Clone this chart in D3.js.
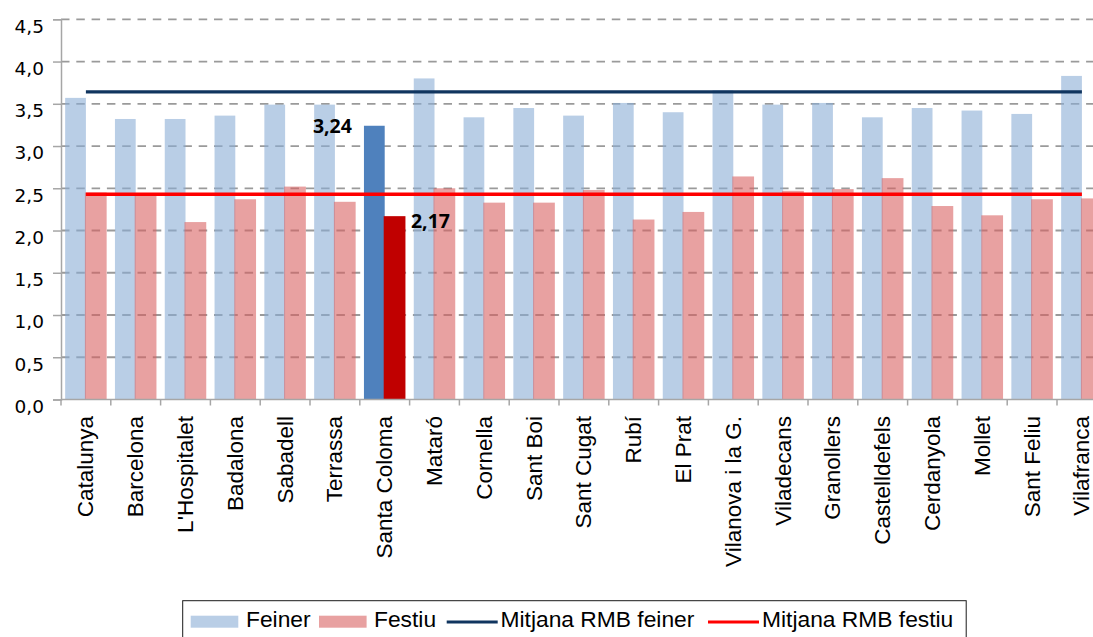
<!DOCTYPE html>
<html>
<head>
<meta charset="utf-8">
<script src="https://cdn.jsdelivr.net/npm/d3@7"></script>
<style>
  html, body { margin: 0; padding: 0; background: #ffffff; }
  svg { display: block; }
</style>
</head>
<body>
<svg id="chart" width="1093" height="637"></svg>
<script>
// Mobilitat per persona: dia feiner vs. dia festiu
const categories = ["Catalunya", "Barcelona", "L'Hospitalet", "Badalona", "Sabadell", "Terrassa",
  "Santa Coloma", "Mataró", "Cornella", "Sant Boi", "Sant Cugat", "Rubí", "El Prat",
  "Vilanova i la G.", "Viladecans", "Granollers", "Castelldefels", "Cerdanyola", "Mollet",
  "Sant Feliu", "Vilafranca"];
const feiner = [3.57, 3.32, 3.32, 3.36, 3.49, 3.49, 3.24, 3.80, 3.34, 3.45, 3.36, 3.51, 3.40,
  3.66, 3.49, 3.51, 3.34, 3.45, 3.42, 3.38, 3.83];
const festiu = [2.45, 2.43, 2.10, 2.37, 2.52, 2.34, 2.17, 2.50, 2.33, 2.33, 2.48, 2.13, 2.22,
  2.64, 2.47, 2.49, 2.62, 2.29, 2.18, 2.37, 2.38];
const mitjanaFeiner = 3.64;
const mitjanaFestiu = 2.43;
const highlighted = "Santa Coloma";
const yTicks = [0, 0.5, 1, 1.5, 2, 2.5, 3, 3.5, 4, 4.5];
const seriesNames = ["Feiner", "Festiu", "Mitjana RMB feiner", "Mitjana RMB festiu"];

const catalan = d3.formatLocale({ decimal: ",", thousands: ".", grouping: [3], currency: ["", " €"] });
const fmtTick = catalan.format(".1f");
const fmtValue = catalan.format(".2f");

const svg = d3.select("#chart");
const plotLeft = 61, step = 49.8, plotTop = 19.3, plotBottom = 399.5;

const x = d3.scaleBand().domain(categories).range([plotLeft, plotLeft + step * categories.length]).padding(0);
const xs = d3.scaleBand().domain(["feiner", "festiu"]).range([0, x.bandwidth()])
  .paddingInner(0).paddingOuter(0.2);
const y = d3.scaleLinear().domain([0, 4.5]).range([plotBottom, plotTop]);

const colors = {
  feiner: "#8aaed6", festiu: "#d86262",
  feinerHi: "#4f81bd", festiuHi: "#c00000",
  lineFeiner: "#10355f", lineFestiu: "#ff0000"
};

// dashed horizontal gridlines
svg.append("g")
  .selectAll("line")
  .data(yTicks.filter(d => d > 0))
  .join("line")
  .attr("x1", plotLeft).attr("x2", 1093)
  .attr("y1", d => y(d)).attr("y2", d => y(d))
  .attr("stroke", "#9a9a9a").attr("stroke-width", 1.8)
  .attr("stroke-dasharray", "8.5,6.8");

// y axis
const yAxis = svg.append("g").attr("transform", `translate(${plotLeft},0)`)
  .call(d3.axisLeft(y).tickValues(yTicks).tickSize(8).tickPadding(0).tickFormat(fmtTick));
yAxis.select(".domain").attr("stroke", "#a6a6a6").attr("stroke-width", 1.5);
yAxis.selectAll(".tick line").attr("stroke", "#a6a6a6").attr("stroke-width", 1.5);
yAxis.selectAll(".tick text")
  .attr("x", -17).attr("dy", "0.7em")
  .attr("fill", "#000")
  .style("font-family", "'DejaVu Sans', sans-serif")
  .style("font-size", "18.5px")
  .attr("text-anchor", "end");

// bars
const rows = categories.map((c, i) => ({ cat: c, feiner: feiner[i], festiu: festiu[i] }));
const groups = svg.append("g").selectAll("g").data(rows).join("g")
  .attr("transform", d => `translate(${x(d.cat)},0)`);

groups.append("rect")
  .attr("x", xs("feiner")).attr("width", xs.bandwidth())
  .attr("y", d => y(d.feiner)).attr("height", d => y(0) - y(d.feiner))
  .attr("fill", d => d.cat === highlighted ? colors.feinerHi : colors.feiner)
  .attr("fill-opacity", d => d.cat === highlighted ? 1 : 0.6);

groups.append("rect")
  .attr("x", xs("festiu") - 1).attr("width", xs.bandwidth() + 1)
  .attr("y", d => y(d.festiu)).attr("height", d => y(0) - y(d.festiu))
  .attr("fill", d => d.cat === highlighted ? colors.festiuHi : colors.festiu)
  .attr("fill-opacity", d => d.cat === highlighted ? 1 : 0.6);

// x axis
const xAxis = svg.append("g").attr("transform", `translate(0,${plotBottom})`);
xAxis.append("line").attr("x1", plotLeft).attr("x2", 1093).attr("stroke", "#a6a6a6").attr("stroke-width", 1.5);
xAxis.selectAll("line.tk")
  .data(categories)
  .join("line").attr("class", "tk")
  .attr("x1", d => x(d)).attr("x2", d => x(d))
  .attr("y1", 0).attr("y2", 6)
  .attr("stroke", "#a6a6a6").attr("stroke-width", 1.5);
xAxis.selectAll("text")
  .data(categories)
  .join("text")
  .attr("transform", d => `translate(${x(d) + x.bandwidth() / 2 + 7.5},16.5) rotate(-90)`)
  .attr("text-anchor", "end")
  .style("font-family", "'Liberation Sans', Arial, sans-serif")
  .style("font-size", "22.5px")
  .attr("fill", "#000")
  .text(d => d);

// average lines across all categories
const xFirst = x(categories[0]) + x.bandwidth() / 2;
const xLast = x(categories[categories.length - 1]) + x.bandwidth() / 2;
svg.append("line")
  .attr("x1", xFirst).attr("x2", xLast)
  .attr("y1", y(mitjanaFeiner)).attr("y2", y(mitjanaFeiner))
  .attr("stroke", colors.lineFeiner).attr("stroke-width", 3.2);
svg.append("line")
  .attr("x1", xFirst).attr("x2", xLast)
  .attr("y1", y(mitjanaFestiu)).attr("y2", y(mitjanaFestiu))
  .attr("stroke", colors.lineFestiu).attr("stroke-width", 3.6);

// value labels on the highlighted municipality
const hi = rows.find(r => r.cat === highlighted);
const valueStyle = sel => sel
  .style("font-family", "'Noto Sans', sans-serif")
  .style("font-size", "19.5px")
  .style("font-weight", "bold")
  .attr("fill", "#000");
svg.append("text")
  .attr("x", x(hi.cat) + xs("feiner") - 12)
  .attr("y", y(hi.feiner) + 7)
  .attr("text-anchor", "end")
  .call(valueStyle)
  .text(fmtValue(hi.feiner));
svg.append("text")
  .attr("x", x(hi.cat) + xs("festiu") + xs.bandwidth() + 5.5)
  .attr("y", y(hi.festiu) + 12)
  .attr("text-anchor", "start")
  .call(valueStyle)
  .text(fmtValue(hi.festiu));

// legend
const legend = svg.append("g");
legend.append("rect")
  .attr("x", 182.7).attr("y", 600.7).attr("width", 783.5).attr("height", 60)
  .attr("fill", "#fff").attr("stroke", "#1a1a1a").attr("stroke-width", 1);
const legendItems = [
  { name: seriesNames[0], kind: "box", color: colors.feiner, sx: 190.7, tx: 246 },
  { name: seriesNames[1], kind: "box", color: colors.festiu, sx: 319, tx: 374 },
  { name: seriesNames[2], kind: "line", color: colors.lineFeiner, sx: 446.7, tx: 500.5 },
  { name: seriesNames[3], kind: "line", color: colors.lineFestiu, sx: 708, tx: 762 }
];
legendItems.forEach(it => {
  if (it.kind === "box") {
    legend.append("rect").attr("x", it.sx).attr("y", 615.7).attr("width", 47.6).attr("height", 12)
      .attr("fill", it.color).attr("fill-opacity", 0.6);
  } else {
    legend.append("line").attr("x1", it.sx).attr("x2", it.sx + 51).attr("y1", 622).attr("y2", 622)
      .attr("stroke", it.color).attr("stroke-width", 3.2);
  }
  legend.append("text")
    .attr("x", it.tx).attr("y", 626.7)
    .style("font-family", "'Liberation Sans', Arial, sans-serif")
    .style("font-size", "22.8px")
    .attr("fill", "#000")
    .text(it.name);
});
</script>
</body>
</html>
